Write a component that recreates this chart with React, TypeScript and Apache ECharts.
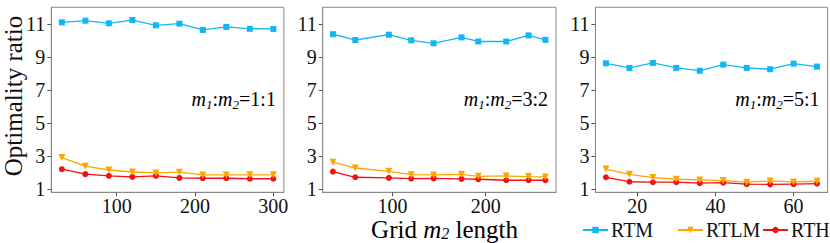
import React, { useEffect, useRef } from "react";
import * as echarts from "echarts";

const xs1 = [30, 60, 90, 120, 150, 180, 210, 240, 270, 300];
const xs2 = [36, 60, 96, 120, 144, 174, 192, 222, 246, 264];
const xs3 = [12, 18, 24, 30, 36, 42, 48, 54, 60, 66];

const rtm1 = [11.09, 11.19, 11.03, 11.23, 10.91, 11.01, 10.63, 10.81, 10.7, 10.69];
const rtlm1 = [2.9, 2.38, 2.15, 2.03, 1.97, 2.02, 1.85, 1.85, 1.86, 1.86];
const rth1 = [2.2, 1.9, 1.8, 1.73, 1.8, 1.67, 1.65, 1.65, 1.62, 1.62];

const rtm2 = [10.37, 10.02, 10.34, 10.0, 9.82, 10.18, 9.93, 9.93, 10.3, 10.03];
const rtlm2 = [2.62, 2.27, 2.07, 1.87, 1.85, 1.89, 1.77, 1.79, 1.75, 1.73];
const rth2 = [2.05, 1.71, 1.67, 1.63, 1.64, 1.61, 1.59, 1.53, 1.53, 1.53];

const rtm3 = [8.61, 8.33, 8.63, 8.33, 8.16, 8.53, 8.33, 8.25, 8.59, 8.41];
const rtlm3 = [2.21, 1.89, 1.69, 1.59, 1.55, 1.51, 1.41, 1.49, 1.43, 1.47];
const rth3 = [1.71, 1.44, 1.41, 1.41, 1.35, 1.38, 1.29, 1.28, 1.3, 1.32];

const xTicks1 = [100, 200, 300];
const xTicks2 = [100, 200];
const xTicks3 = [20, 40, 60];
const yTicks = [1, 3, 5, 7, 9, 11];
const ratios = ["1:1", "3:2", "5:1"];
const seriesNames = ["RTM", "RTLM", "RTH"];

const FONT = "Liberation Serif";
const BLUE = "#12b6f2";
const ORANGE = "#ffa500";
const RED = "#f21010";
const SPINE = "#8a8a8a";

const grids = [
  { left: 51.3, width: 232.6, min: 16.5, max: 313.5, ticks: xTicks1 },
  { left: 322.7, width: 233.3, min: 25, max: 275.4, ticks: xTicks2 },
  { left: 595.4, width: 232.2, min: 9.3, max: 68.7, ticks: xTicks3 },
];
const TOP = 7.3;
const HEIGHT = 185;

const pairs = (xs: number[], ys: number[]) => xs.map((x, i) => [x, ys[i]]);

export default function App() {
  const ref = useRef<HTMLDivElement>(null);
  useEffect(() => {
    if (!ref.current) return;
    const chart = echarts.init(ref.current, undefined, { renderer: "svg" });
    const xsAll = [xs1, xs2, xs3];
    const data = [
      [rtm1, rtlm1, rth1],
      [rtm2, rtlm2, rth2],
      [rtm3, rtlm3, rth3],
    ];
    const styles = [
      { color: BLUE, symbol: "rect", symbolRotate: 0, symbolSize: 6 },
      { color: ORANGE, symbol: "triangle", symbolRotate: 180, symbolSize: 7 },
      { color: RED, symbol: "circle", symbolSize: 6, symbolRotate: 0 },
    ];
    const series: any[] = [];
    data.forEach((panel, gi) => {
      panel.forEach((ys, si) => {
        const st = styles[si];
        series.push({
          type: "line",
          name: seriesNames[si],
          xAxisIndex: gi,
          yAxisIndex: gi,
          data: pairs(xsAll[gi], ys),
          symbol: st.symbol,
          symbolRotate: st.symbolRotate,
          symbolSize: st.symbolSize,
          showSymbol: true,
          lineStyle: { color: st.color, width: 1.3 },
          itemStyle: { color: st.color },
          z: 3 - si,
        });
      });
    });
    const richAnn = {
      m: { fontFamily: FONT, fontStyle: "italic", fontSize: 20, lineHeight: 24, verticalAlign: "middle", color: "#111" },
      s: { fontFamily: FONT, fontStyle: "italic", fontSize: 13, lineHeight: 13, verticalAlign: "bottom", color: "#111" },
      n: { fontFamily: FONT, fontSize: 20, lineHeight: 24, verticalAlign: "middle", color: "#111" },
    };
    const graphics: any[] = grids.map((g, i) => ({
      type: "text",
      x: g.left + g.width - 8,
      y: 99,
      style: {
        text: `{m|m}{s|1}{n|:}{m|m}{s|2}{n|=${ratios[i]}}`,
        rich: richAnn,
        align: "right",
        verticalAlign: "middle",
      },
    }));
    graphics.push({
      type: "text",
      x: 13,
      y: 96,
      rotation: Math.PI / 2,
      style: {
        text: "Optimality ratio",
        fontFamily: FONT,
        fontSize: 25,
        lineHeight: 22,
        fill: "#111",
        align: "center",
        verticalAlign: "middle",
      },
    });
    graphics.push({
      type: "text",
      x: 444.5,
      y: 229.5,
      style: {
        text: "{n|Grid }{m|m}{s|2}{n| length}",
        rich: {
          m: { fontFamily: FONT, fontStyle: "italic", fontSize: 25, lineHeight: 24, verticalAlign: "middle", color: "#111" },
          s: { fontFamily: FONT, fontStyle: "italic", fontSize: 16, lineHeight: 16, verticalAlign: "bottom", color: "#111" },
          n: { fontFamily: FONT, fontSize: 25, lineHeight: 24, verticalAlign: "middle", color: "#111" },
        },
        align: "center",
        verticalAlign: "middle",
      },
    });
    const legendLefts = [582, 677, 762];
    chart.setOption({
      animation: false,
      textStyle: { fontFamily: FONT },
      grid: grids.map((g) => ({
        left: g.left,
        top: TOP,
        width: g.width,
        height: HEIGHT,
        show: true,
        borderColor: SPINE,
        borderWidth: 1,
        backgroundColor: "transparent",
      })),
      xAxis: grids.map((g, i) => ({
        type: "value",
        gridIndex: i,
        min: g.min,
        max: g.max,
        splitLine: { show: false },
        axisLine: { show: true, lineStyle: { color: SPINE, width: 1 } },
        axisTick: { show: true, length: 4, lineStyle: { color: "#555" }, customValues: g.ticks },
        axisLabel: {
          color: "#111",
          fontFamily: FONT,
          fontSize: 20,
          margin: 4,
          customValues: g.ticks,
        },
      })),
      yAxis: grids.map((g, i) => ({
        type: "value",
        gridIndex: i,
        min: 0.8,
        max: 12,
        splitLine: { show: false },
        axisLine: { show: true, lineStyle: { color: SPINE, width: 1 } },
        axisTick: { show: true, length: 4, lineStyle: { color: "#555" }, customValues: yTicks },
        axisLabel: {
          color: "#111",
          fontFamily: FONT,
          fontSize: 20,
          margin: 6,
          customValues: yTicks,
        },
      })),
      legend: seriesNames.map((n, i) => ({
        data: [n],
        left: legendLefts[i],
        top: 220,
        itemWidth: 25,
        itemHeight: 8,
        padding: 0,
        itemGap: 4,
        textStyle: {
          fontFamily: FONT,
          fontSize: 20,
          color: "#111",
          padding: [0, 0, 0, -2],
        },
        selectedMode: false,
      })),
      graphic: graphics,
      series,
    });
    return () => chart.dispose();
  }, []);
  return (
    <div
      ref={ref}
      style={{ position: "fixed", left: 0, top: 0, width: 830, height: 243, background: "#fff" }}
    />
  );
}
